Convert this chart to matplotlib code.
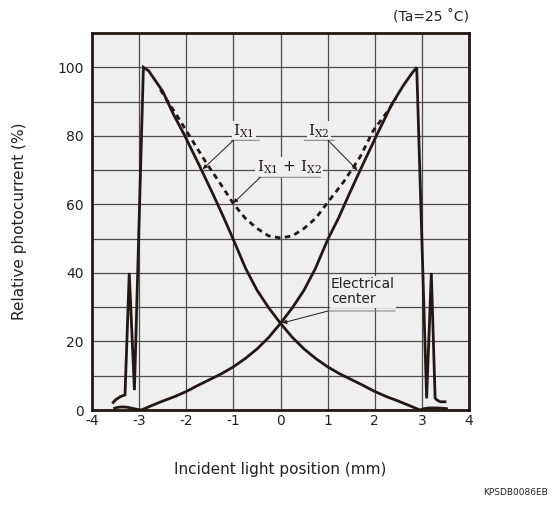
import matplotlib
matplotlib.use("Agg")
import matplotlib.pyplot as plt
import matplotlib.ticker as ticker

plt.rcParams['font.family'] = ['DejaVu Sans']
plt.rcParams['axes.unicode_minus'] = False
plt.rcParams['mathtext.fontset'] = 'dejavuserif'

# Ix1 (left electrode)
ix1_x = [-3.55, -3.50, -3.45, -3.40, -3.30, -3.21, -3.10, -2.91, -2.80, -2.70,
         -2.50, -2.28, -2.03, -1.71, -1.42, -1.21, -1.00, -0.74, -0.50, -0.25,
         0.00, 0.25, 0.50, 0.75, 1.00, 1.25, 1.50, 1.75, 2.00, 2.25,
         2.50, 2.75, 2.96, 3.05, 3.15, 3.30, 3.45, 3.52]
ix1_y = [2.2, 3.0, 3.4, 3.9, 4.4, 40.0, 5.8, 100.0, 99.0, 97.0,
         93.0, 86.5, 80.0, 71.0, 62.6, 56.3, 49.7, 41.3, 35.0, 29.8,
         25.3, 21.2, 17.8, 15.0, 12.6, 10.6, 8.9, 7.2, 5.4, 3.9,
         2.6, 1.2, 0.0, 0.4, 0.6, 0.6, 0.5, 0.4]

# Ix2 (right electrode)
ix2_x = [-3.52, -3.45, -3.35, -3.25, -3.18, -3.05, -2.95, -2.75, -2.50, -2.25,
         -2.00, -1.75, -1.50, -1.25, -1.00, -0.75, -0.50, -0.25, 0.00, 0.25,
         0.50, 0.74, 1.00, 1.23, 1.45, 1.69, 2.04, 2.36, 2.61, 2.80,
         2.89, 3.10, 3.20, 3.28, 3.32, 3.39, 3.49]
ix2_y = [0.5, 0.8, 0.9, 0.8, 0.6, 0.2, 0.0, 1.2, 2.6, 3.9,
         5.4, 7.2, 8.9, 10.6, 12.6, 15.0, 17.8, 21.2, 25.3, 29.8,
         35.0, 41.3, 49.7, 56.0, 62.8, 70.0, 80.2, 89.2, 94.8, 98.5,
         100.0, 3.4, 40.0, 3.5, 2.9, 2.4, 2.4]

# Ix1 + Ix2
sum_x = [-2.55, -2.41, -2.20, -1.92, -1.57, -1.25, -1.00, -0.75, -0.50, -0.25,
         0.00, 0.25, 0.50, 0.75, 0.98, 1.34, 1.69, 1.97, 2.29, 2.45]
sum_y = [93.5, 90.4, 86.0, 79.7, 72.0, 65.5, 60.2, 56.0, 53.0, 50.8,
         50.2, 50.8, 53.0, 56.0, 60.2, 66.6, 73.9, 81.6, 87.5, 91.0]

x_ticks = [-4, -3, -2, -1, 0, 1, 2, 3, 4]
y_ticks = [0, 20, 40, 60, 80, 100]

ink = '#231815'

fig = plt.figure(figsize=(5.52, 5.08), dpi=100)
ax = fig.add_axes([0.1667, 0.1929, 0.683, 0.742])
ax.set_facecolor('#efefef')

ax.set_xlim(-4, 4)
ax.set_ylim(0, 110)
ax.set_xticks(x_ticks)
ax.set_xticklabels([str(v) for v in x_ticks])
ax.set_yticks(y_ticks)
ax.yaxis.set_minor_locator(ticker.MultipleLocator(10))
ax.tick_params(which='both', length=0, labelsize=10, colors='#222222')
ax.tick_params(axis='x', pad=3)
ax.tick_params(axis='y', pad=6)
ax.grid(which='both', color='#4d4d4d', linewidth=0.9)
ax.set_axisbelow(True)
for s in ax.spines.values():
    s.set_color(ink)
    s.set_linewidth(2.0)

ax.plot(ix1_x, ix1_y, color=ink, linewidth=2.0, solid_joinstyle='miter', zorder=3)
ax.plot(ix2_x, ix2_y, color=ink, linewidth=2.0, solid_joinstyle='miter', zorder=3)
ax.plot(sum_x, sum_y, color=ink, linewidth=2.0, linestyle=(0, (2, 1.6)), zorder=3)

ax.set_xlabel('Incident light position (mm)', fontsize=11, labelpad=24, color='#222222')
ax.set_ylabel('Relative photocurrent (%)', fontsize=11, labelpad=22, color='#222222')

box = dict(facecolor='#efefef', edgecolor='none', pad=1.0)
lead = dict(arrowstyle='-|>', color=ink, lw=0.7, mutation_scale=6, shrinkA=0, shrinkB=0)
under = dict(arrowstyle='-', color='#888888', lw=0.8, shrinkA=0, shrinkB=0)

# labels, their underlines and leader lines
ax.text(-0.78, 81.3, r'$\mathrm{I}_{\mathrm{X1}}$', fontsize=11, ha='center', va='center',
        bbox=box, color=ink, zorder=4)
ax.annotate('', xy=(-0.45, 78.7), xytext=(-1.05, 78.7), arrowprops=under, zorder=5)
ax.annotate('', xy=(-1.65, 70.3), xytext=(-1.0, 78.7), arrowprops=lead, zorder=5)

ax.text(0.82, 81.3, r'$\mathrm{I}_{\mathrm{X2}}$', fontsize=11, ha='center', va='center',
        bbox=box, color=ink, zorder=4)
ax.annotate('', xy=(1.15, 78.7), xytext=(0.5, 78.7), arrowprops=under, zorder=5)
ax.annotate('', xy=(1.63, 70.0), xytext=(1.01, 78.7), arrowprops=lead, zorder=5)

ax.text(0.18, 70.8, r'$\mathrm{I}_{\mathrm{X1}}$ + $\mathrm{I}_{\mathrm{X2}}$', fontsize=11,
        ha='center', va='center', bbox=box, color=ink, zorder=4)
ax.annotate('', xy=(0.85, 67.9), xytext=(-0.47, 67.9), arrowprops=under, zorder=5)
ax.annotate('', xy=(-1.0, 60.4), xytext=(-0.43, 67.9), arrowprops=lead, zorder=5)

ax.text(1.07, 34.5, 'Electrical\ncenter', fontsize=10, ha='left', va='center',
        linespacing=1.1, bbox=box, color='#222222', zorder=4)
ax.annotate('', xy=(2.43, 28.9), xytext=(1.0, 28.9), arrowprops=under, zorder=5)
ax.annotate('', xy=(0.04, 25.4), xytext=(1.01, 28.9), arrowprops=lead, zorder=5)

fig.text(0.85, 0.966, '(Ta=25 \u02daC)', fontsize=10, ha='right', va='center', color='#222222')
fig.text(0.993, 0.031, 'KPSDB0086EB', fontsize=6.5, ha='right', va='center', color='#222222')

fig.savefig('out.png', dpi=100)
